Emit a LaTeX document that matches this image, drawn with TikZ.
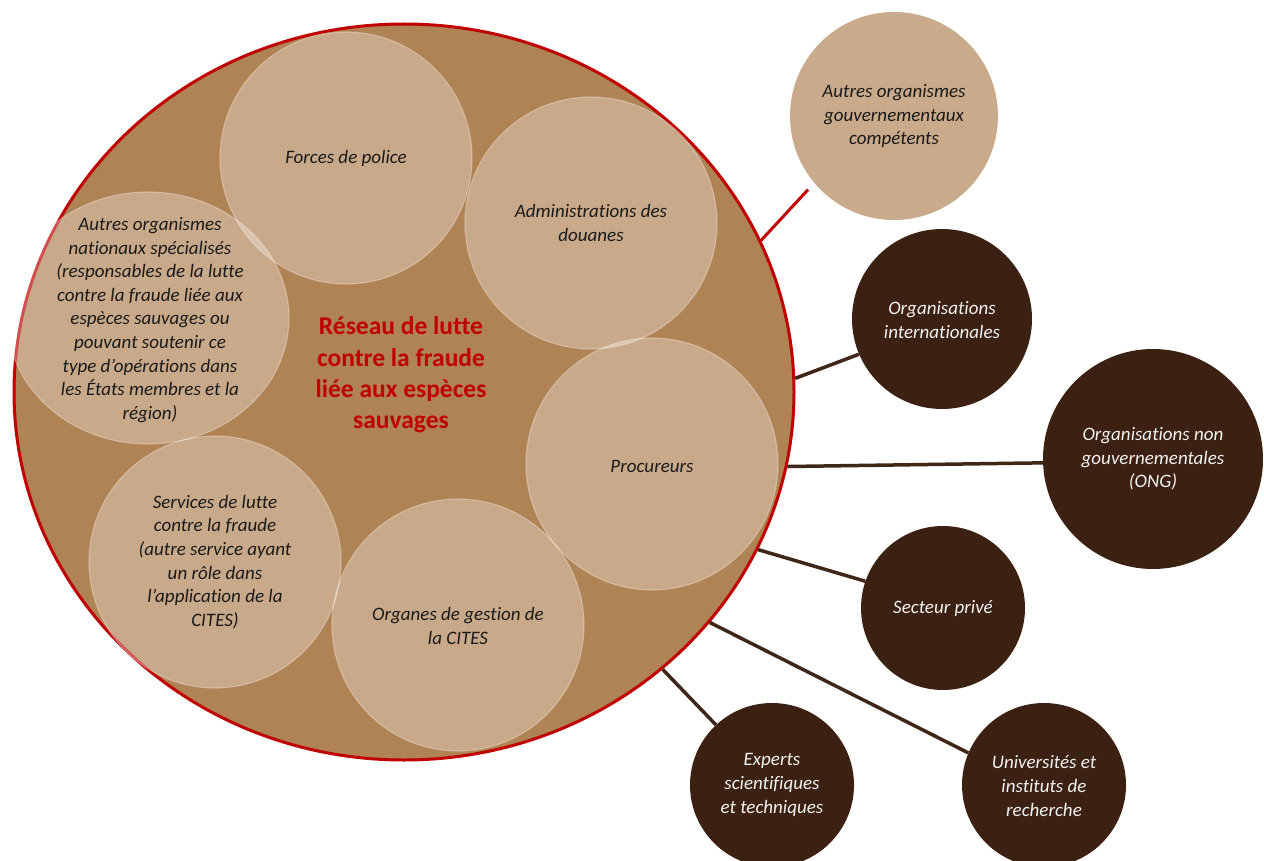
\documentclass[tikz,border=0pt]{standalone}
\usepackage{fontspec}
\setmainfont{Carlito}[Ligatures={TeX,NoCommon,NoContextual}]
\usetikzlibrary{shapes.geometric}
\definecolor{bigfill}{RGB}{176,131,85}
\definecolor{redborder}{RGB}{192,0,0}
\definecolor{govfill}{RGB}{201,171,140}
\definecolor{darkbrown}{RGB}{60,33,18}
\definecolor{connbrown}{RGB}{64,38,22}
\definecolor{innertext}{RGB}{26,26,26}
\definecolor{outertext}{RGB}{242,242,242}
\begin{document}
\begin{tikzpicture}[x=1pt,y=-1pt,
  innercirc/.style={circle, inner sep=0pt, minimum size=252pt, fill=white, fill opacity=0.31, draw=white, draw opacity=0.3, line width=1.2pt},
  innertxt/.style={text=innertext, align=center, inner sep=0pt, font=\fontsize{19}{23.6}\selectfont\itshape},
  govcirc/.style={circle, inner sep=0pt, fill=govfill},
  darkcirc/.style={circle, inner sep=0pt, fill=darkbrown},
  darktxt/.style={text=outertext, align=center, inner sep=0pt, font=\fontsize{19}{23.6}\selectfont\itshape},
  conn/.style={draw=connbrown, line width=3.5pt},
  redconn/.style={draw=redborder, line width=3pt, shorten >=9pt},
  titletxt/.style={text=redborder, align=center, inner sep=0pt, font=\fontsize{25.5}{31.3}\selectfont\bfseries}
]
\useasboundingbox (0,0) rectangle (1264,861);

% main network ellipse
\node[ellipse, minimum width=780pt, minimum height=736pt, inner sep=0pt, fill=bigfill, draw=redborder, line width=3pt] (big) at (404,392) {};

% inner members
\node[innercirc] (police) at (346,158) {};
\node[innercirc] (douanes) at (591,223) {};
\node[innercirc, ellipse, minimum width=282pt, minimum height=252pt] (autres) at (148,318) {};
\node[innercirc] (procureurs) at (652,464) {};
\node[innercirc] (organes) at (458,625) {};
\node[innercirc] (services) at (215,562) {};

\node[innertxt] (policeT) at (346,158) {Forces de police};
\node[innertxt] (douanesT) at (591,223) {Administrations des\\douanes};
\node[innertxt] (autresT) at (150,320) {Autres organismes\\nationaux spécialisés\\(responsables de la lutte\\contre la fraude liée aux\\espèces sauvages ou\\pouvant soutenir ce\\type d’opérations dans\\les États membres et la\\région)};
\node[innertxt] (procureursT) at (652,466) {Procureurs};
\node[innertxt] (organesT) at (458,626) {Organes de gestion de\\la CITES};
\node[innertxt] (servicesT) at (215,562) {Services de lutte\\contre la fraude\\(autre service ayant\\un rôle dans\\l’application de la\\CITES)};

\node[titletxt] (title) at (401,375) {Réseau de lutte\\contre la fraude\\liée aux espèces\\sauvages};

% outer partners
\node[govcirc, minimum size=208pt] (gov) at (894,116) {};
\node[innertxt] (govT) at (894,116) {Autres organismes\\gouvernementaux\\compétents};
\node[darkcirc, minimum size=180pt] (orgint) at (942,319) {};
\node[darktxt] (orgintT) at (942,320) {Organisations\\internationales};
\node[darkcirc, minimum size=220pt] (ong) at (1153,459) {};
\node[darktxt] (ongT) at (1153,459) {Organisations non\\gouvernementales\\(ONG)};
\node[darkcirc, minimum size=164pt] (secteur) at (943,608) {};
\node[darktxt] (secteurT) at (943,608) {Secteur privé};
\node[darkcirc, minimum size=164pt] (experts) at (772,785) {};
\node[darktxt] (expertsT) at (772,785) {Experts\\scientifiques\\et techniques};
\node[darkcirc, minimum size=164pt] (univ) at (1044,785) {};
\node[darktxt] (univT) at (1044,786) {Universités et\\instituts de\\recherche};

% connectors
\draw[redconn] (big.23.5) -- (gov.220);
\draw[conn] (big.2.6) -- (orgint.203);
\draw[conn] (big.349.4) -- (ong.182);
\draw[conn] (big.336) -- (secteur.161);
\draw[conn] (big.323.6) -- (univ.157);
\draw[conn] (big.313.4) -- (experts.133);
\end{tikzpicture}
\end{document}
